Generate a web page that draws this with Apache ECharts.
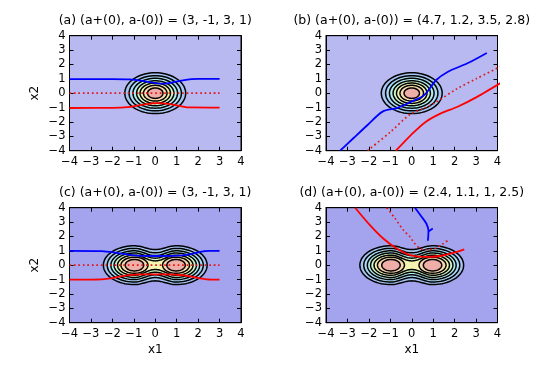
<!DOCTYPE html>
<html>
<head>
<meta charset="utf-8">
<script src="https://cdn.jsdelivr.net/npm/echarts@6/dist/echarts.min.js"></script>
<style>
  html, body { margin: 0; padding: 0; background: #fff; }
  #main { width: 554px; height: 369px; }
</style>
</head>
<body>
<div id="main"></div>
<script>
// tick values on both axes
var ticks = [-4, -3, -2, -1, 0, 1, 2, 3, 4];

var titles = [
  '(a) (a+(0), a-(0)) = (3, -1, 3, 1)',
  '(b) (a+(0), a-(0)) = (4.7, 1.2, 3.5, 2.8)',
  '(c) (a+(0), a-(0)) = (3, -1, 3, 1)',
  '(d) (a+(0), a-(0)) = (2.4, 1.1, 1, 2.5)'
];

// contour levels of the single well, (a) and (b): radius of each ring
var ringRadii = [1.42, 1.22, 1.04, 0.87, 0.71, 0.55, 0.36];

// double well, (c) and (d): lobes centred at +-wellX
var wellX = 0.97;
var lobeRx = [1.45, 1.27, 1.10, 0.95, 0.79, 0.63, 0.43];
var lobeRy = [1.35, 1.17, 1.00, 0.85, 0.70, 0.56, 0.40];
var waistY = [1.09, 0.86, 0.67, 0.49, 0.30, -1, -1];   // -1: two separate ovals

var fillColors = ['#a4c4f4', '#aadaf6', '#b0eeef', '#d0f4c4', '#f2f4b0', '#f8d8ae', '#f0aea8'];
var bgColors = ['#b9b9f1', '#b9b9f1', '#a3a3ee', '#a3a3ee'];

// trajectories
var blueA = [[-4, 0.98], [-2, 0.98], [-1.2, 0.96], [-0.6, 0.86], [0, 0.7], [0.35, 0.66], [0.9, 0.78], [1.5, 0.95], [2, 0.99], [3, 1.0]];
var redA  = [[-4, -1.03], [-2, -1.02], [-1.3, -0.97], [-0.6, -0.8], [0.1, -0.69], [0.7, -0.76], [1.2, -0.9], [1.6, -0.99], [3, -1.0]];
var dotA  = [[-4, 0], [3, 0]];

var blueB = [[-3.34, -4], [-2.7, -3.1], [-2.06, -2.21], [-1.36, -1.28], [-0.66, -1.02], [-0.04, -0.6], [0.58, -0.13], [1.13, 0.9], [1.67, 1.48], [2.6, 2.08], [3.5, 2.8]];
var redB  = [[-0.74, -4], [-0.04, -2.91], [0.66, -1.98], [1.36, -1.4], [2.14, -0.94], [3.07, -0.24], [4.7, 1.2]];
var dotB  = [[-2.06, -4], [-1, -2.7], [-0.1, -1.5], [0.5, -1.1], [1.1, -0.65], [2.1, 0.3], [3, 1.0], [4.2, 1.9]];

var blueC = [[-4, 1.0], [-2.5, 0.98], [-1.8, 0.86], [-1, 0.68], [0, 0.64], [1, 0.66], [1.6, 0.76], [2.1, 0.92], [2.5, 0.99], [3, 1.0]];
var redC  = [[-4, -1.0], [-2.5, -0.98], [-2, -0.9], [-1.4, -0.72], [-0.5, -0.64], [0.5, -0.64], [1.3, -0.7], [1.9, -0.86], [2.4, -0.98], [3, -1.0]];
var dotC  = [[-4, 0], [3, 0]];

var blueD  = [[0.15, 4.0], [0.46, 3.37], [0.68, 2.9], [0.78, 2.4], [0.77, 2.0], [0.75, 1.7]];
var blueD2 = [[0.78, 2.35], [0.98, 2.55]];
var redD   = [[-2.64, 4.0], [-1.95, 2.79], [-1.33, 1.86], [-0.7, 1.16], [-0.08, 0.7], [0.54, 0.58], [1.32, 0.64], [1.94, 0.85], [2.45, 1.1]];
var dotD   = [[-1.17, 4.0], [-0.8, 3.3], [-0.39, 2.44], [-0.08, 1.98], [0.1, 1.58], [0.39, 1.16], [0.7, 1.08], [1.09, 1.16], [1.48, 1.51], [1.72, 1.76]];

var grids = [
  { left: 69.5, top: 35.7, width: 171.5, height: 115 },
  { left: 326, top: 35.7, width: 171.5, height: 115 },
  { left: 69.5, top: 207.7, width: 171.5, height: 115 },
  { left: 326, top: 207.7, width: 171.5, height: 115 }
];

var FONT = 'DejaVu Sans';
function fmt(v) { return String(v).replace('-', '\u2212'); }

// contour items: [cx, rx, ry, waist, level]
var singleWell = ringRadii.map(function (r, i) { return [0, r, r, -1, i]; });
var doubleWell = [];
lobeRx.forEach(function (rx, i) {
  if (waistY[i] >= 0) {
    doubleWell.push([wellX, rx, lobeRy[i], waistY[i], i]);
  } else {
    doubleWell.push([-wellX, rx, lobeRy[i], -1, i]);
    doubleWell.push([wellX, rx, lobeRy[i], -1, i]);
  }
});

function outline(cx, rx, ry, w) {
  var pts = [], n = 40, k, t, x;
  if (w < 0) {
    for (k = 0; k < 72; k++) {
      t = k / 72 * Math.PI * 2;
      pts.push([cx + rx * Math.cos(t), ry * Math.sin(t)]);
    }
    return pts;
  }
  var c = cx;
  for (k = 0; k <= n; k++) {            // right lobe
    t = -Math.PI / 2 + k / n * Math.PI;
    pts.push([c + rx * Math.cos(t), ry * Math.sin(t)]);
  }
  for (k = 1; k < n; k++) {             // top waist
    x = c - k / n * 2 * c;
    pts.push([x, w + (ry - w) * (1 - Math.cos(Math.PI * x / c)) / 2]);
  }
  for (k = 0; k <= n; k++) {            // left lobe
    t = Math.PI / 2 + k / n * Math.PI;
    pts.push([-c + rx * Math.cos(t), ry * Math.sin(t)]);
  }
  for (k = 1; k < n; k++) {             // bottom waist
    x = -c + k / n * 2 * c;
    pts.push([x, -(w + (ry - w) * (1 - Math.cos(Math.PI * x / c)) / 2)]);
  }
  return pts;
}

function contourSeries(gi, data) {
  return {
    type: 'custom',
    xAxisIndex: gi * 2,
    yAxisIndex: gi * 2,
    silent: true,
    z: 1,
    data: data,
    renderItem: function (params, api) {
      var pts = outline(api.value(0), api.value(1), api.value(2), api.value(3));
      return {
        type: 'polygon',
        shape: { points: pts.map(function (p) { return api.coord(p); }) },
        style: { fill: fillColors[api.value(4)], stroke: '#000', lineWidth: 1.5 }
      };
    }
  };
}

function lineSeries(gi, data, color, dotted) {
  return {
    type: 'line',
    xAxisIndex: gi * 2,
    yAxisIndex: gi * 2,
    data: data,
    showSymbol: false,
    smooth: 0.3,
    silent: true,
    z: 3,
    lineStyle: dotted
      ? { color: '#e01818', width: 1.7, type: [1.7, 2.8] }
      : { color: color, width: 1.8 }
  };
}

var xAxes = [], yAxes = [];
grids.forEach(function (g, i) {
  ['bottom', 'top'].forEach(function (pos) {
    xAxes.push({
      type: 'value', gridIndex: i, position: pos, min: -4, max: 4, interval: 1,
      name: (pos === 'bottom' && i >= 2) ? 'x1' : '',
      nameLocation: 'middle', nameGap: 21,
      nameTextStyle: { fontFamily: FONT, fontSize: 12, color: '#000' },
      axisLine: { show: true, onZero: false, lineStyle: { color: '#000', width: 1 } },
      axisTick: { show: true, inside: true, length: 4, lineStyle: { color: '#000' } },
      axisLabel: { show: pos === 'bottom', margin: 5, formatter: fmt, fontFamily: FONT, fontSize: 11.5, color: '#000' },
      splitLine: { show: false }
    });
  });
  ['left', 'right'].forEach(function (pos) {
    yAxes.push({
      type: 'value', gridIndex: i, position: pos, min: -4, max: 4, interval: 1,
      name: (pos === 'left' && i % 2 === 0) ? 'x2' : '',
      nameLocation: 'middle', nameGap: 29, nameRotate: 90,
      nameTextStyle: { fontFamily: FONT, fontSize: 12, color: '#000' },
      axisLine: { show: true, onZero: false, lineStyle: { color: '#000', width: 1 } },
      axisTick: { show: true, inside: true, length: 4, lineStyle: { color: '#000' } },
      axisLabel: { show: pos === 'left', margin: 4, formatter: fmt, fontFamily: FONT, fontSize: 11.5, color: '#000' },
      splitLine: { show: false }
    });
  });
});

var chart = echarts.init(document.getElementById('main'), null, { renderer: 'canvas' });
chart.setOption({
  animation: false,
  backgroundColor: '#fff',
  title: titles.map(function (t, i) {
    return {
      text: t, left: grids[i].left + grids[i].width / 2, top: grids[i].top - 21,
      textAlign: 'center', padding: 0,
      textStyle: { fontFamily: FONT, fontSize: 12.5, fontWeight: 'normal', color: '#000' }
    };
  }),
  grid: grids.map(function (g, i) {
    return { left: g.left, top: g.top, width: g.width, height: g.height,
             show: true, backgroundColor: bgColors[i], borderColor: '#000', borderWidth: 1 };
  }),
  xAxis: xAxes,
  yAxis: yAxes,
  series: [
    contourSeries(0, singleWell),
    contourSeries(1, singleWell),
    contourSeries(2, doubleWell),
    contourSeries(3, doubleWell),
    lineSeries(0, dotA, null, true),
    lineSeries(0, blueA, '#0000ff'),
    lineSeries(0, redA, '#ff0000'),
    lineSeries(1, dotB, null, true),
    lineSeries(1, blueB, '#0000ff'),
    lineSeries(1, redB, '#ff0000'),
    lineSeries(2, dotC, null, true),
    lineSeries(2, blueC, '#0000ff'),
    lineSeries(2, redC, '#ff0000'),
    lineSeries(3, dotD, null, true),
    lineSeries(3, blueD, '#0000ff'),
    lineSeries(3, blueD2, '#0000ff'),
    lineSeries(3, redD, '#ff0000')
  ]
});
</script>
</body>
</html>
